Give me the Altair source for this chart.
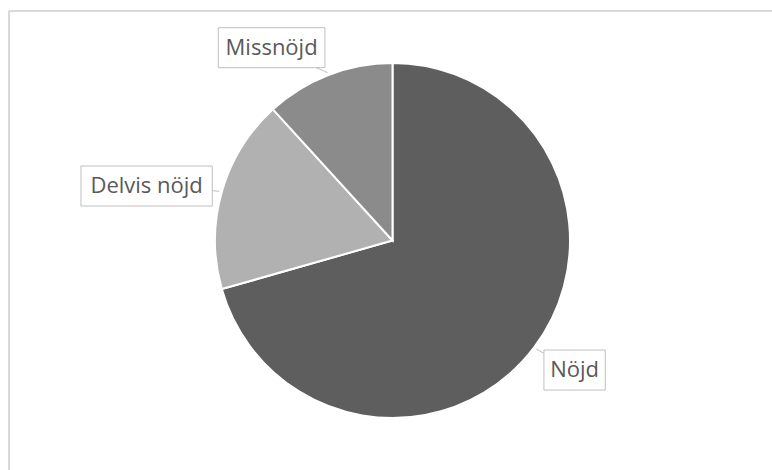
import altair as alt
import pandas as pd

# ---- data ----
labels = ["Nöjd", "Delvis nöjd", "Missnöjd"]
values = [24, 6, 4]
order = [0, 1, 2]
colors = ["#5e5e5e", "#b1b1b1", "#8b8b8b"]

df = pd.DataFrame({"label": labels, "value": values, "order": order})

W, H = 772, 470
CX, CY, R = 392.5, 240.5, 177.5
LR = 190        # label anchor radius
TIP = 180       # callout tip radius
FS = 22

base = (
    alt.Chart(df)
    .transform_joinaggregate(total="sum(value)")
    .transform_window(cum="sum(value)", sort=[alt.SortField("order")], frame=[None, 0])
    .transform_calculate(
        mid=f"2*PI*(datum.cum - datum.value/2)/datum.total",
        narrow="length(replace(datum.label, regexp('[^ijl ]', 'g'), ''))",
    )
    .transform_calculate(
        tw=f"{FS}*(0.26*datum.narrow + 0.6*(length(datum.label) - datum.narrow))",
        nudge="datum.label == 'Missnöjd' ? -33 : (datum.label == 'Nöjd' ? 6 : 0)",
    )
    .transform_calculate(
        bw="datum.tw + 16",
    )
    .transform_calculate(
        lx=f"{CX} + ({LR} + datum.bw/2)*sin(datum.mid) + datum.nudge",
        ly=f"{CY} - ({LR} + 20)*cos(datum.mid) + 3",
        tx=f"{CX} + {TIP}*sin(datum.mid)",
        ty=f"{CY} - {TIP}*cos(datum.mid)",
    )
    .transform_calculate(
        bx1="datum.lx - datum.bw/2",
        bx2="datum.lx + datum.bw/2",
        by1="datum.ly - 20",
        by2="datum.ly + 20",
    )
)

border = alt.Chart(pd.DataFrame({"k": [0]}))
border_left = border.mark_rule(color="#d9d9d9", strokeWidth=2).encode(
    x=alt.value(9), y=alt.value(11), y2=alt.value(H)
)
border_top = border.mark_rule(color="#d9d9d9", strokeWidth=2).encode(
    x=alt.value(9), x2=alt.value(W), y=alt.value(11)
)

pie = base.mark_arc(radius=R, stroke="white", strokeWidth=2).encode(
    theta=alt.Theta("value:Q", stack=True),
    order=alt.Order("order:Q"),
    color=alt.Color("label:N", scale=alt.Scale(domain=labels, range=colors), legend=None),
    x=alt.value(CX),
    y=alt.value(CY),
)

tails = base.mark_rule(color="#bfbfbf", strokeWidth=1).encode(
    x=alt.X("tx:Q", scale=None),
    y=alt.Y("ty:Q", scale=None),
    x2="lx:Q",
    y2="ly:Q",
)

boxes = base.mark_rect(fill="white", stroke="#bfbfbf", strokeWidth=1).encode(
    x=alt.X("bx1:Q", scale=None),
    x2="bx2:Q",
    y=alt.Y("by1:Q", scale=None),
    y2="by2:Q",
)

texts = base.mark_text(
    font="Open Sans", fontSize=FS, color="#595959", align="center", baseline="middle"
).encode(
    x=alt.X("lx:Q", scale=None),
    y=alt.Y("ly:Q", scale=None),
    text="label:N",
)

chart = (
    alt.layer(border_left, border_top, pie, tails, boxes, texts)
    .properties(width=W, height=H, padding=0, autosize=alt.AutoSizeParams(type="none"),
                background="white")
    .configure_view(stroke=None)
)

chart.save("out.html", embed_options={"renderer": "svg", "actions": False})
